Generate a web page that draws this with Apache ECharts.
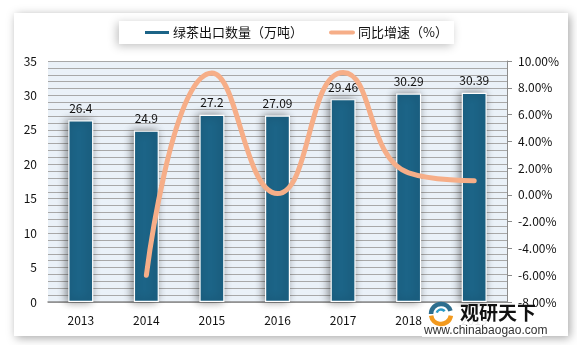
<!DOCTYPE html>
<html>
<head>
<meta charset="utf-8">
<script src="https://cdn.jsdelivr.net/npm/echarts@6/dist/echarts.min.js"></script>
<style>
html,body{margin:0;padding:0;background:#fff;width:577px;height:345px;overflow:hidden;}
#box{position:absolute;left:14px;top:13px;width:554px;height:323px;background:#fff;box-shadow:2px 2px 9px rgba(0,0,0,0.35);}
#chart{position:absolute;left:0;top:0;width:577px;height:345px;}
</style>
</head>
<body>
<div id="box"></div>
<div id="chart"></div>
<script>
const years = ['2013','2014','2015','2016','2017','2018','2019'];
const exportVolume = [26.4, 24.9, 27.2, 27.09, 29.46, 30.29, 30.39];
const growthRate = [null, -6.0, 9.1, 0.1, 9.15, 1.65, 1.05];
const leftTicks = {min: 0, max: 35, interval: 5};
const rightTicks = {min: -8, max: 10, interval: 2};
const barName = '绿茶出口数量（万吨）';
const lineName = '同比增速（%）';

const font = '"Noto Sans CJK SC", "DejaVu Sans", sans-serif';
const chart = echarts.init(document.getElementById('chart'), null, {renderer: 'canvas'});
chart.setOption({
  backgroundColor: 'transparent',
  animation: false,
  textStyle: {fontFamily: font},
  legend: {
    left: 119, top: 21,
    padding: [5, 6, 5, 24],
    backgroundColor: '#fff',
    shadowBlur: 10, shadowColor: 'rgba(0,0,0,0.25)', shadowOffsetX: -2, shadowOffsetY: 2,
    itemGap: 26, itemWidth: 26, itemHeight: 5,
    textStyle: {fontSize: 13, color: '#111', fontFamily: font, padding: [0, 0, 0, -2]},
    data: [
      {name: barName, icon: 'rect'},
      {name: lineName, icon: 'path://M2.5,0 L28.5,0 A2.5,2.5 0 0 1 28.5,5 L2.5,5 A2.5,2.5 0 0 1 2.5,0 Z'}
    ]
  },
  grid: {left: 48, right: 70, top: 61, bottom: 43, show: true, backgroundColor: '#EAF1F8', borderWidth: 0},
  xAxis: {
    type: 'category', data: years,
    axisLine: {show: true, lineStyle: {color: '#8c8c8c', width: 1.5}},
    axisTick: {show: false},
    axisLabel: {color: '#111', fontSize: 12, margin: 12, fontFamily: font}
  },
  yAxis: [{
    type: 'value', min: leftTicks.min, max: leftTicks.max, interval: leftTicks.interval,
    axisLine: {show: false}, axisTick: {show: false},
    axisLabel: {color: '#111', fontSize: 12, margin: 11, fontFamily: font},
    splitLine: {lineStyle: {color: '#A8A8A8', width: 1}},
    minorTick: {show: false, splitNumber: 5},
    minorSplitLine: {show: true, lineStyle: {color: '#A8A8A8', width: 1}}
  }, {
    type: 'value', min: rightTicks.min, max: rightTicks.max, interval: rightTicks.interval,
    position: 'right',
    axisLine: {show: true, lineStyle: {color: '#8c8c8c'}},
    axisTick: {show: true, inside: false, length: 5, lineStyle: {color: '#8c8c8c'}},
    axisLabel: {color: '#111', fontSize: 12, margin: 11, fontFamily: font,
      formatter: v => v.toFixed(2) + '%'},
    splitLine: {show: false}
  }],
  series: [{
    name: barName, type: 'bar', data: exportVolume, barWidth: 25,
    itemStyle: {color: '#1C6487', borderColor: '#fff', borderWidth: 1.2,
      shadowBlur: 8, shadowColor: 'rgba(0,0,0,0.45)', shadowOffsetX: -2, shadowOffsetY: 0},
    label: {show: true, position: 'top', distance: 6, color: '#111', fontSize: 12, fontFamily: font}
  }, {
    name: lineName, type: 'line', yAxisIndex: 1, data: growthRate,
    smooth: 0.5, showSymbol: false, symbol: 'none',
    lineStyle: {color: '#F6AE88', width: 5, cap: 'round', join: 'round'},
    itemStyle: {color: '#F6AE88'}
  }],
  graphic: [
    {type: 'rect', shape: {x: 422, y: 307, width: 120, height: 30}, style: {fill: 'rgba(255,255,255,0.9)'}, z: 100},
    {type: 'arc', z: 101, shape: {cx: 441, cy: 314, r: 10, startAngle: Math.PI * 1.0, endAngle: Math.PI * 1.9}, style: {stroke: '#2E6E8E', lineWidth: 4.5, fill: null}},
    {type: 'arc', z: 101, shape: {cx: 441, cy: 314, r: 10, startAngle: Math.PI * 0.05, endAngle: Math.PI * 0.95}, style: {stroke: '#F39A1E', lineWidth: 4.5, fill: null}},
    {type: 'arc', z: 101, shape: {cx: 441, cy: 314, r: 4.5, startAngle: Math.PI * 1.1, endAngle: Math.PI * 1.8}, style: {stroke: '#2E9BC6', lineWidth: 2.5, fill: null}},
    {type: 'text', z: 101, left: 460, top: 303, style: {text: '观研天下', fill: '#111', font: 'bold 19px "Noto Sans CJK SC"'}},
    {type: 'text', z: 101, left: 424, top: 325, style: {text: 'www.chinabaogao.com', fill: '#333', font: '12px "Liberation Sans", Arial, sans-serif'}}
  ]
});
</script>
</body>
</html>
